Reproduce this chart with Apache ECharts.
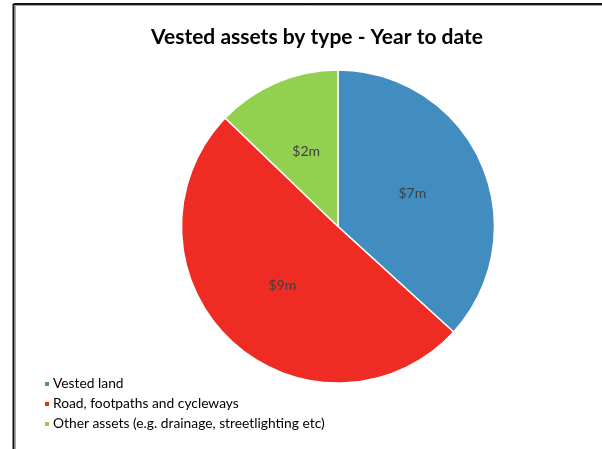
<!DOCTYPE html>
<html>
<head>
<meta charset="utf-8">
<script src="https://cdn.jsdelivr.net/npm/echarts@6/dist/echarts.min.js"></script>
<style>
  html, body { margin: 0; padding: 0; background: #fff; }
  #chart { width: 602px; height: 449px; }
</style>
</head>
<body>
<div id="chart"></div>
<script>
// Asset types and year-to-date values (in $ millions)
const categories = ['Vested land', 'Road, footpaths and cycleways', 'Other assets (e.g. drainage, streetlighting etc)'];
const values = [6.6, 9.05, 2.3];
const colors = ['#418DC0', '#EE2C24', '#92D050'];

const chart = echarts.init(document.getElementById('chart'), null, { renderer: 'canvas' });

const font = 'Lato, "Open Sans", "Noto Sans", sans-serif';

chart.setOption({
  animation: false,
  backgroundColor: '#ffffff',
  title: {
    text: 'Vested assets by type - Year to date',
    left: 312,
    textAlign: 'center',
    top: 22,
    textStyle: { fontFamily: font, fontSize: 21, fontWeight: 'bold', color: '#000' }
  },
  legend: {
    orient: 'vertical',
    left: 38,
    top: 372,
    icon: 'rect',
    itemWidth: 6,
    itemHeight: 6,
    itemGap: 6,
    data: categories,
    textStyle: { fontFamily: font, fontSize: 13.8, color: '#000', padding: [0, 0, 0, -2] }
  },
  graphic: [
    { type: 'line', shape: { x1: 13.5, y1: 4, x2: 602, y2: 4 }, style: { stroke: '#111', lineWidth: 2 } },
    { type: 'line', shape: { x1: 13.5, y1: 4, x2: 13.5, y2: 449 }, style: { stroke: '#111', lineWidth: 2 } },
    { type: 'line', shape: { x1: 15, y1: 5.5, x2: 602, y2: 5.5 }, style: { stroke: '#aaa', lineWidth: 1 } },
    { type: 'line', shape: { x1: 15.5, y1: 5.5, x2: 15.5, y2: 449 }, style: { stroke: '#aaa', lineWidth: 1 } }
  ],
  series: [{
    type: 'pie',
    center: [338, 226.5],
    radius: [0, 156.5],
    startAngle: 90,
    clockwise: true,
    color: colors,
    itemStyle: { borderColor: '#fff', borderWidth: 1.5 },
    label: {
      show: true,
      position: 'inside',
      formatter: p => '$' + Math.round(p.value) + 'm',
      fontFamily: font,
      fontSize: 14,
      color: '#404040'
    },
    labelLine: { show: false },
    emphasis: { disabled: true },
    data: categories.map((name, i) => ({ name: name, value: values[i] }))
  }]
});
</script>
</body>
</html>
